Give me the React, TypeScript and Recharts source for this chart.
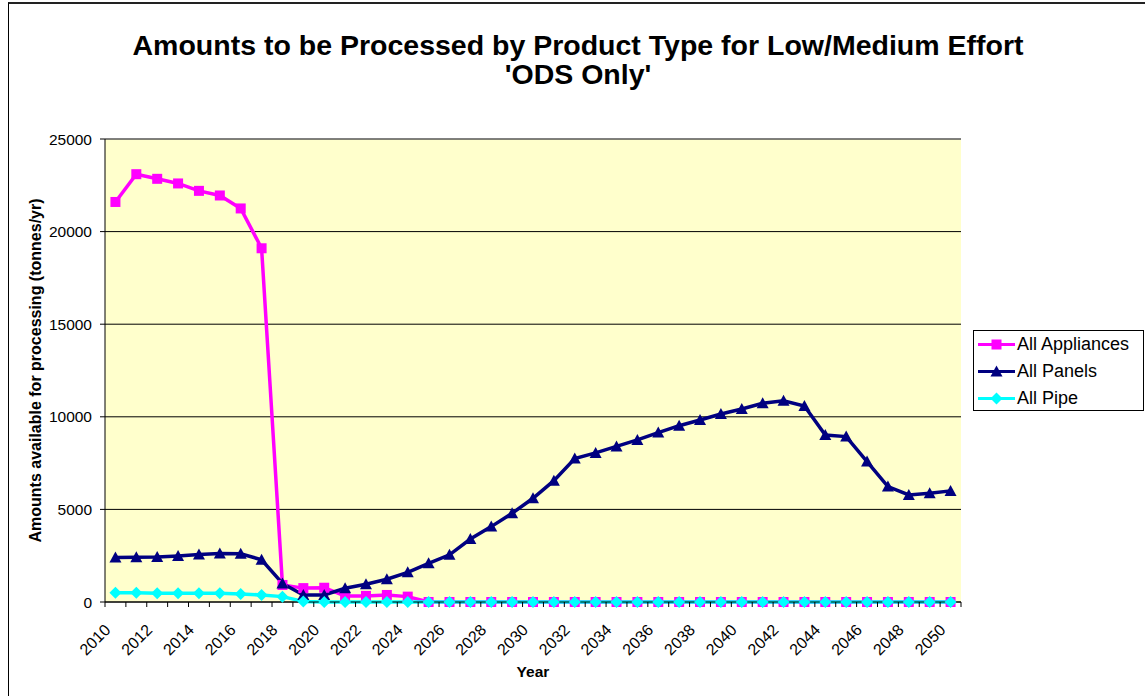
import { LineChart, Line, XAxis, YAxis, CartesianGrid, ReferenceLine } from 'recharts';

const years = [
  2010, 2011, 2012, 2013, 2014, 2015, 2016, 2017, 2018, 2019, 2020,
  2021, 2022, 2023, 2024, 2025, 2026, 2027, 2028, 2029, 2030,
  2031, 2032, 2033, 2034, 2035, 2036, 2037, 2038, 2039, 2040,
  2041, 2042, 2043, 2044, 2045, 2046, 2047, 2048, 2049, 2050,
];

const appliances = [
  21600, 23100, 22850, 22600, 22200, 21950, 21250, 19100, 920, 750, 770,
  330, 330, 380, 290, 0, 0, 0, 0, 0, 0,
  0, 0, 0, 0, 0, 0, 0, 0, 0, 0,
  0, 0, 0, 0, 0, 0, 0, 0, 0, 0,
];

const panels = [
  2400, 2420, 2430, 2490, 2560, 2620, 2600, 2280, 1000, 380, 380,
  740, 960, 1230, 1600, 2090, 2550, 3400, 4070, 4790, 5600,
  6550, 7750, 8050, 8400, 8750, 9150, 9520, 9830, 10150, 10420,
  10730, 10870, 10580, 9020, 8930, 7580, 6230, 5780, 5870, 6000,
];

const pipe = [
  500, 500, 470, 470, 470, 470, 430, 380, 290, 30, 0,
  0, 0, 0, 0, 0, 0, 0, 0, 0, 0,
  0, 0, 0, 0, 0, 0, 0, 0, 0, 0,
  0, 0, 0, 0, 0, 0, 0, 0, 0, 0,
];

const yTicks = [0, 5000, 10000, 15000, 20000, 25000];

const seriesNames = ['All Appliances', 'All Panels', 'All Pipe'];

const W = 1145;
const H = 696;
const MARGIN = { top: 139, right: 184, bottom: 0, left: 0 };
const Y_AXIS_W = 105;
const X_AXIS_H = 94;
const BAND = (W - MARGIN.left - MARGIN.right - Y_AXIS_W) / years.length;
const FONT = '"Liberation Sans", Arial, Helvetica, sans-serif';

const PINK = '#FF00FF';
const NAVY = '#000080';
const CYAN = '#00FFFF';

const data = years.map((year, i) => ({
  year,
  appliances: appliances[i],
  panels: panels[i],
  pipe: pipe[i],
}));

function Square({ cx, cy, color }: any) {
  return <rect x={cx - 5} y={cy - 5} width={10} height={10} fill={color} />;
}

function Triangle({ cx, cy, color }: any) {
  return <polygon points={`${cx},${cy - 6} ${cx + 6},${cy + 5} ${cx - 6},${cy + 5}`} fill={color} />;
}

function Diamond({ cx, cy, color }: any) {
  return <polygon points={`${cx},${cy - 6} ${cx + 6},${cy} ${cx},${cy + 6} ${cx - 6},${cy}`} fill={color} />;
}

const markers = [
  { name: seriesNames[0], color: PINK, Shape: Square },
  { name: seriesNames[1], color: NAVY, Shape: Triangle },
  { name: seriesNames[2], color: CYAN, Shape: Diamond },
];

function YearTick({ x, y, payload, index }: any) {
  const tx = x - 4;
  const ty = y + 29;
  const showLabel = payload.value % 2 === 0;
  return (
    <g>
      <line x1={x - BAND / 2} x2={x - BAND / 2} y1={y} y2={y + 5} stroke="#000" />
      {index === years.length - 1 && (
        <line x1={x + BAND / 2} x2={x + BAND / 2} y1={y} y2={y + 5} stroke="#000" />
      )}
      {showLabel && (
        <text
          x={tx}
          y={ty}
          textAnchor="end"
          transform={`rotate(-45 ${tx} ${ty})`}
          fontSize={16}
          fontFamily={FONT}
          fill="#000"
        >
          {payload.value}
        </text>
      )}
    </g>
  );
}

function YLabel({ viewBox }: any) {
  const cx = 35;
  const cy = viewBox.y + viewBox.height / 2;
  return (
    <text
      x={cx}
      y={cy}
      textAnchor="middle"
      dominantBaseline="central"
      transform={`rotate(-90 ${cx} ${cy})`}
      fontSize={16}
      fontWeight="bold"
      fontFamily={FONT}
      fill="#000"
    >
      Amounts available for processing (tonnes/yr)
    </text>
  );
}

function XLabel({ viewBox }: any) {
  return (
    <text
      x={viewBox.x + viewBox.width / 2}
      y={677}
      textAnchor="middle"
      fontSize={15.5}
      fontWeight="bold"
      fontFamily={FONT}
      fill="#000"
    >
      Year
    </text>
  );
}

function LegendBox() {
  return (
    <div
      style={{
        position: 'absolute',
        left: 973,
        top: 330,
        width: 169,
        height: 79,
        border: '1px solid #000',
        background: '#fff',
        fontFamily: FONT,
        fontSize: 18,
      }}
    >
      {markers.map(({ name, color, Shape }, i) => (
        <div
          key={name}
          style={{ position: 'absolute', left: 0, top: i * 27, height: 27, display: 'flex', alignItems: 'center' }}
        >
          <svg width={42} height={27} style={{ display: 'block' }}>
            <line x1={4} x2={41} y1={13.5} y2={13.5} stroke={color} strokeWidth={3} />
            <Shape cx={22.5} cy={13.5} color={color} />
          </svg>
          <span style={{ marginLeft: 1, whiteSpace: 'nowrap', lineHeight: '27px' }}>{name}</span>
        </div>
      ))}
    </div>
  );
}

export default function App() {
  return (
    <div
      style={{
        position: 'fixed',
        left: 0,
        top: 0,
        width: W,
        height: H,
        overflow: 'hidden',
        background: '#fff',
      }}
    >
      <div
        style={{
          position: 'absolute',
          left: 8,
          top: 2,
          width: W,
          height: H + 10,
          borderLeft: '1px solid #000',
          borderTop: '2px solid #222',
        }}
      />
      <div
        style={{
          position: 'absolute',
          left: 0,
          top: 31,
          width: 1156,
          textAlign: 'center',
          fontFamily: FONT,
          fontWeight: 'bold',
          fontSize: 28.5,
          lineHeight: '29px',
          color: '#000',
        }}
      >
        <div>Amounts to be Processed by Product Type for Low/Medium Effort</div>
        <div>'ODS Only'</div>
      </div>
      <div style={{ position: 'absolute', left: 0, top: 0 }}>
        <LineChart width={W} height={H} data={data} margin={MARGIN}>
          <CartesianGrid vertical={false} stroke="#000" fill="#FFFFCC" fillOpacity={1} />
          <ReferenceLine y={25000} stroke="#808080" />
          <XAxis
            dataKey="year"
            scale="band"
            interval={0}
            height={X_AXIS_H}
            tickLine={false}
            tickSize={0}
            tickMargin={0}
            axisLine={{ stroke: '#000' }}
            tick={(p: any) => <YearTick {...p} />}
            label={<XLabel />}
          />
          <YAxis
            width={Y_AXIS_W}
            domain={[0, 25000]}
            ticks={yTicks}
            interval={0}
            tickSize={5}
            tickMargin={8}
            tickLine={{ stroke: '#000' }}
            axisLine={{ stroke: '#000' }}
            tick={{ fill: '#000', fontSize: 15.5, fontFamily: FONT }}
            label={<YLabel />}
          />
          <YAxis
            yAxisId="right"
            orientation="right"
            width={0}
            domain={[0, 25000]}
            tick={false}
            tickLine={false}
            axisLine={{ stroke: '#808080' }}
          />
          <Line
            type="linear"
            dataKey="appliances"
            name={seriesNames[0]}
            stroke={PINK}
            strokeWidth={3.5}
            dot={(p: any) => <Square key={p.index} cx={p.cx} cy={p.cy} color={PINK} />}
            activeDot={false}
            isAnimationActive={false}
          />
          <Line
            type="linear"
            dataKey="panels"
            name={seriesNames[1]}
            stroke={NAVY}
            strokeWidth={3.5}
            dot={(p: any) => <Triangle key={p.index} cx={p.cx} cy={p.cy} color={NAVY} />}
            activeDot={false}
            isAnimationActive={false}
          />
          <Line
            type="linear"
            dataKey="pipe"
            name={seriesNames[2]}
            stroke={CYAN}
            strokeWidth={3.5}
            dot={(p: any) => <Diamond key={p.index} cx={p.cx} cy={p.cy} color={CYAN} />}
            activeDot={false}
            isAnimationActive={false}
          />
        </LineChart>
      </div>
      <LegendBox />
    </div>
  );
}
